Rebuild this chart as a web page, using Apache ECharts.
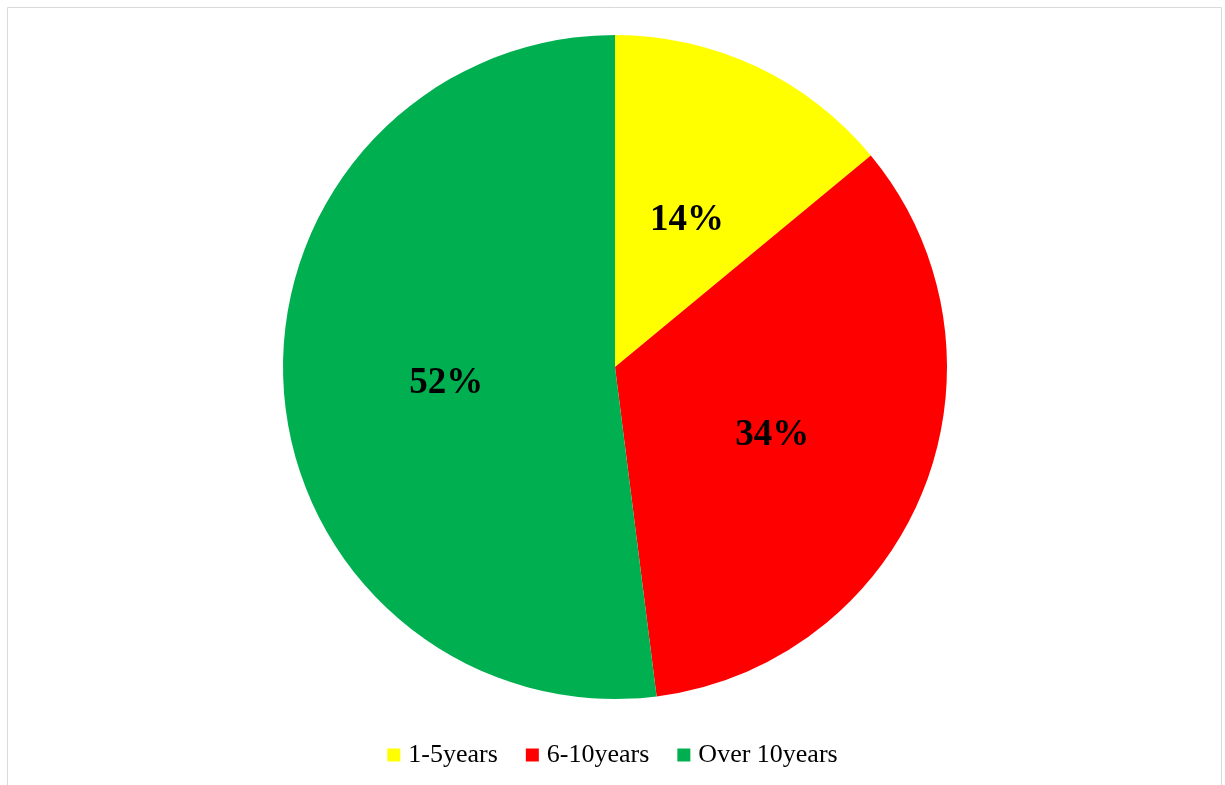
<!DOCTYPE html>
<html>
<head>
<meta charset="utf-8">
<script src="https://cdn.jsdelivr.net/npm/echarts@6/dist/echarts.min.js"></script>
<style>
    html, body { margin: 0; padding: 0; background: #fff; }
    #chart { width: 1225px; height: 785px; }
</style>
</head>
<body>
<div id="chart"></div>
<script>
// 数据
let categories = ['1-5years', '6-10years', 'Over 10years'];
let shares = [14, 34, 52];
let colors = ['#FFFF00', '#FF0000', '#00B050'];

let pieData = categories.map((name, i) => {
    return {value: shares[i], name: name, itemStyle: {color: colors[i]}}
});

let chart = echarts.init(document.getElementById('chart'), null, {renderer: 'canvas'});
let option = {
    animation: false,
    textStyle: {fontFamily: '"Liberation Serif", "Times New Roman", serif'},
    graphic: [
        {
            type: 'rect',
            shape: {x: 7.5, y: 7.5, width: 1214, height: 800},
            style: {fill: 'none', stroke: '#d9d9d9', lineWidth: 1},
            silent: true
        }
    ],
    legend: {
        top: 737,
        left: 'center',
        icon: 'rect',
        itemWidth: 13,
        itemHeight: 13,
        itemGap: 28,
        textStyle: {
            fontFamily: '"Liberation Serif", "Times New Roman", serif',
            fontSize: 26,
            color: '#000',
            padding: [0, 0, 0, 3]
        },
        data: categories
    },
    series: [
        {
            type: 'pie',
            center: [615, 367],
            radius: 332,
            startAngle: 90,
            clockwise: true,
            label: {
                show: true,
                position: 'inside',
                formatter: '{c}%',
                fontFamily: '"Liberation Serif", "Times New Roman", serif',
                fontSize: 37,
                fontWeight: 'bold',
                color: '#000',
                offset: [0, 6]
            },
            labelLine: {show: false},
            itemStyle: {borderWidth: 0},
            emphasis: {disabled: true},
            data: pieData
        }
    ]
};
chart.setOption(option);
</script>
</body>
</html>
